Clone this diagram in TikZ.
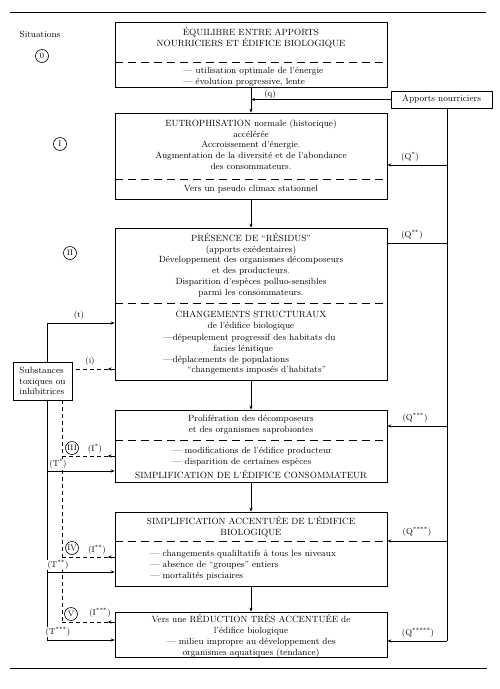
\documentclass[tikz,border=0pt]{standalone}
\usepackage{tikz}
\usetikzlibrary{arrows.meta, positioning, decorations.markings}

\tikzset{
  txt/.style={font=\fontsize{9}{10.8}\selectfont, inner sep=0pt, align=center},
  lbl/.style={font=\fontsize{8.5}{10}\selectfont, inner sep=0pt},
  etat/.style={draw, minimum width=272pt, inner sep=0pt},
  sep/.style={dash pattern=on 8pt off 5pt},
  num/.style={draw, circle, inner sep=0.5pt, minimum size=13pt, line width=0.6pt, font=\fontsize{8}{8}\selectfont},
  inhib/.style={dash pattern=on 4pt off 3pt,
    decoration={markings, mark=at position 7pt with {\arrow{Stealth[length=4pt,width=3.2pt]}}},
    postaction={decorate}}
}

\begin{document}
\begin{tikzpicture}[x=1pt, y=-1pt, line width=0.75pt, >={Stealth[length=4pt,width=3.2pt]}]
  \useasboundingbox (0,0) rectangle (500,689);
  % Rules
  \draw[line width=0.9pt] (10,12.5) -- (486,12.5);
  \draw[line width=0.9pt] (10,668) -- (487,668);

  % Situations
  \node[txt] (sit) at (40,34) {Situations};
  \node[num] (n0) at (42,56) {0};
  \node[num] (n1) at (60,144) {I};
  \node[num] (n2) at (70,253) {II};
  \node[num] (n3) at (72,448) {III};
  \node[num] (n4) at (72,548) {IV};
  \node[num] (n5) at (71,614) {V};

  % Boxes
  \node[etat, minimum height=65pt] (s0) at (251,54.5) {};
  \node[etat, minimum height=86pt] (s1) at (251,156) {};
  \node[etat, minimum height=152pt] (s2) at (251,304) {};
  \node[etat, minimum height=72pt] (s3) at (251,446) {};
  \node[etat, minimum height=74pt] (s4) at (251,549) {};
  \node[etat, minimum height=45pt] (s5) at (251,634.5) {};

  \draw[sep] (s0.west |- 0,62) -- (s0.east |- 0,62);
  \draw[sep] (s1.west |- 0,179) -- (s1.east |- 0,179);
  \draw[sep] (s2.west |- 0,303) -- (s2.east |- 0,303);
  \draw[sep] (s3.west |- 0,440) -- (s3.east |- 0,440);
  \draw[sep] (s4.west |- 0,541) -- (s4.east |- 0,541);

  % Box texts
  \node[txt] (s0a) at (251,38) {ÉQUILIBRE ENTRE APPORTS\\NOURRICIERS ET ÉDIFICE BIOLOGIQUE};
  \node[txt, anchor=west, align=left] (s0b) at (183,76.5) {— utilisation optimale de l’énergie\\— évolution progressive, lente};

  \node[txt] (s1a) at (251,144.5) {EUTROPHISATION normale (historique)\\accélérée\\Accroissement d’énergie.\\Augmentation de la diversité et de l’abondance\\des consommateurs.};
  \node[txt] (s1b) at (251,189) {Vers un pseudo climax stationnel};

  \node[txt] (s2a) at (251,265) {PRÉSENCE DE “RÉSIDUS”\\(apports exédentaires)\\Développement des organismes décomposeurs\\et des producteurs.\\Disparition d’espèces polluo-sensibles\\parmi les consommateurs.};
  \node[txt] (s2b) at (251,321) {CHANGEMENTS STRUCTURAUX\\de l’édifice biologique};
  \node[txt, anchor=west, align=left] (s2c) at (163,354.5) {—dépeuplement progressif des habitats du\\\hspace*{50pt}facies lénitique\\—déplacements de populations\\\hspace*{24pt}“changements imposés d’habitats”};

  \node[txt] (s3a) at (251,424.5) {Prolifération des décomposeurs\\et des organismes saprobiontes};
  \node[txt, anchor=west, align=left] (s3b) at (172,456.5) {— modifications de l’édifice producteur\\— disparition de certaines espèces};
  \node[txt] (s3c) at (251,474) {SIMPLIFICATION DE L’ÉDIFICE CONSOMMATEUR};

  \node[txt] (s4a) at (251,526.5) {SIMPLIFICATION ACCENTUÉE DE L’ÉDIFICE\\BIOLOGIQUE};
  \node[txt, anchor=west, align=left] (s4b) at (150,565) {— changements qualiltatifs à tous les niveaux\\— absence de “groupes” entiers\\— mortalités pisciaires};

  \node[txt] (s5a) at (251,636) {Vers une RÉDUCTION TRÈS ACCENTUÉE de\\l’édifice biologique\\— milieu impropre au développement des\\organismes aquatiques (tendance)};

  % Main chain
  \draw[->] (s0.south) -- (s1.north);
  \draw[->] (s1.south) -- (s2.north);
  \draw[->] (s2.south) -- (s3.north);
  \draw[->] (s3.south) -- (s4.north);
  \draw[->] (s4.south) -- (s5.north);

  % Apports nourriciers
  \node[txt, draw, minimum width=101pt, minimum height=17pt] (app) at (441.5,99.5) {Apports nourriciers};
  \coordinate (bus) at (447,0);
  \draw[->] (app.west) -- (app.west -| s0.south);
  \node[lbl] (q0) at (270,94) {(q)};
  \draw (app.south -| bus) -- (bus |- 0,641);
  \draw[->] (bus |- 0,165) -- (s1.east |- 0,165);
  \draw (bus |- 0,243) -- (s2.east |- 0,243);
  \draw[->] (bus |- 0,426) -- (s3.east |- 0,426);
  \draw[->] (bus |- 0,541) -- (s4.east |- 0,541);
  \draw[->] (bus |- 0,641) -- (s5.east |- 0,641);
  \node[lbl] (q1) at (410,157) {(Q\textsuperscript{*})};
  \node[lbl] (q2) at (412,235) {(Q\textsuperscript{**})};
  \node[lbl] (q3) at (415,418) {(Q\textsuperscript{***})};
  \node[lbl] (q4) at (417,532) {(Q\textsuperscript{****})};
  \node[lbl] (q5) at (418,633) {(Q\textsuperscript{*****})};

  % Substances toxiques
  \node[txt, draw, align=left, minimum width=59pt, minimum height=38pt] (sub) at (42.5,381) {Substances\\toxiques ou\\inhibitrices};
  \coordinate (lt) at (47,0);
  \coordinate (ld) at (62,0);
  \draw[->] (sub.north -| lt) |- (s2.west |- 0,323);
  \node[lbl] (t0) at (79,315) {(t)};
  \draw[inhib] (s2.west |- 0,369) -- (sub.east |- 0,369);
  \node[lbl] (i0) at (90,361) {(i)};

  \draw[->] (sub.south -| lt) |- (s5.west |- 0,640);
  \draw[->] (lt |- 0,471) -- (s3.west |- 0,471);
  \draw[->] (lt |- 0,572) -- (s4.west |- 0,572);
  \draw[dash pattern=on 4pt off 3pt] (sub.south -| ld) -- (ld |- 0,622);
  \draw[inhib] (s3.west |- 0,456) -- (ld |- 0,456);
  \draw[inhib] (s4.west |- 0,557) -- (ld |- 0,557);
  \draw[inhib] (s5.west |- 0,622) -- (ld |- 0,622);

  \node[lbl] (i1) at (95,449) {(I\textsuperscript{*})};
  \node[lbl] (i2) at (97,550) {(I\textsuperscript{**})};
  \node[lbl] (i3) at (100,613) {(I\textsuperscript{***})};
  \node[lbl, fill=white, inner sep=0.5pt] (t1) at (58,464) {(T\textsuperscript{*})};
  \node[lbl, fill=white, inner sep=0.5pt] (t2) at (58,565) {(T\textsuperscript{**})};
  \node[lbl, fill=white, inner sep=0.5pt] (t3) at (58,632) {(T\textsuperscript{***})};
\end{tikzpicture}
\end{document}
